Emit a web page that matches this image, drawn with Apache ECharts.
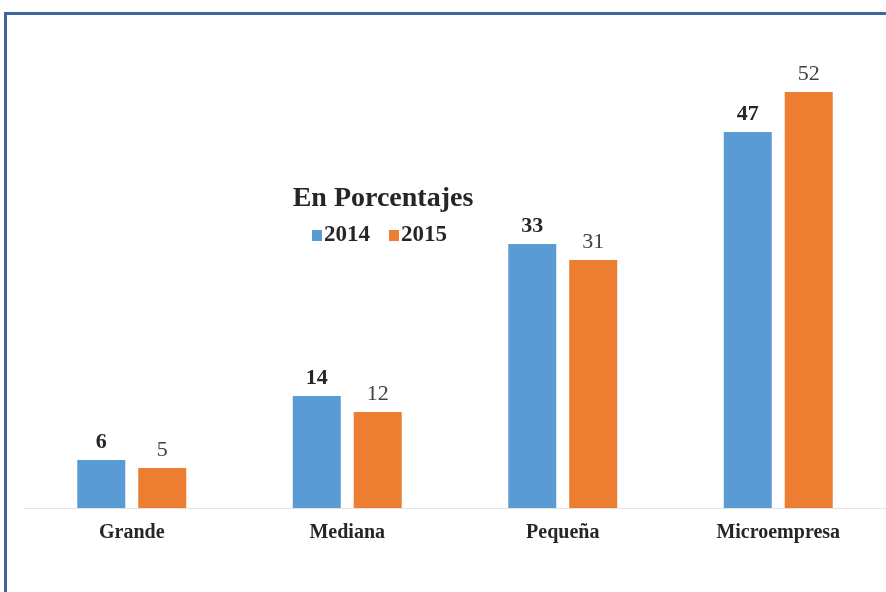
<!DOCTYPE html>
<html><head><meta charset="utf-8">
<script src="https://cdn.jsdelivr.net/npm/echarts@6/dist/echarts.min.js"></script>
<style>html,body{margin:0;padding:0;background:#fff}#c{width:886px;height:592px}</style>
</head><body><div id="c"></div>
<script>
const categories = ['Grande', 'Mediana', 'Pequeña', 'Microempresa'];
const values2014 = [6, 14, 33, 47];
const values2015 = [5, 12, 31, 52];
const seriesNames = ['2014', '2015'];
const titleText = 'En Porcentajes';

const serif = '"Liberation Serif", "DejaVu Serif", serif';
const chart = echarts.init(document.getElementById('c'));
chart.setOption({
  backgroundColor: '#fff',
  animation: false,
  graphic: [
    {type: 'line', shape: {x1: 5.5, y1: 13.5, x2: 886, y2: 13.5}, style: {stroke: '#3b66a0', lineWidth: 3}},
    {type: 'line', shape: {x1: 5.5, y1: 12, x2: 5.5, y2: 592}, style: {stroke: '#3b66a0', lineWidth: 3}}
  ],
  title: {
    text: titleText, left: 378, top: 180, textAlign: 'center',
    textStyle: {fontFamily: serif, fontSize: 28, fontWeight: 'bold', color: '#262626'}
  },
  legend: {
    data: seriesNames, left: 307, top: 219,
    itemWidth: 10, itemHeight: 11, itemGap: 19,
    icon: 'rect',
    textStyle: {fontFamily: serif, fontSize: 23, fontWeight: 'bold', color: '#262626', padding: [0, 0, 0, -3]}
  },
  grid: {left: 24, right: 0, top: 28, bottom: 84, containLabel: false},
  xAxis: {
    type: 'category', data: categories,
    axisLine: {lineStyle: {color: '#e3e3e3', width: 1}},
    axisTick: {show: false},
    axisLabel: {fontFamily: serif, fontSize: 20, fontWeight: 'bold', color: '#262626', margin: 15}
  },
  yAxis: {type: 'value', min: 0, max: 60, show: false, splitLine: {show: false}},
  series: [
    {name: seriesNames[0], type: 'bar', data: values2014, barWidth: 48, barGap: '27%',
     itemStyle: {color: '#5b9bd5'},
     label: {show: true, position: 'top', distance: 7, fontFamily: serif, fontSize: 22, fontWeight: 'bold', color: '#262626'}},
    {name: seriesNames[1], type: 'bar', data: values2015, barWidth: 48,
     itemStyle: {color: '#ed7d31'},
     label: {show: true, position: 'top', distance: 7, fontFamily: serif, fontSize: 22, color: '#404040'}}
  ]
});
</script></body></html>
